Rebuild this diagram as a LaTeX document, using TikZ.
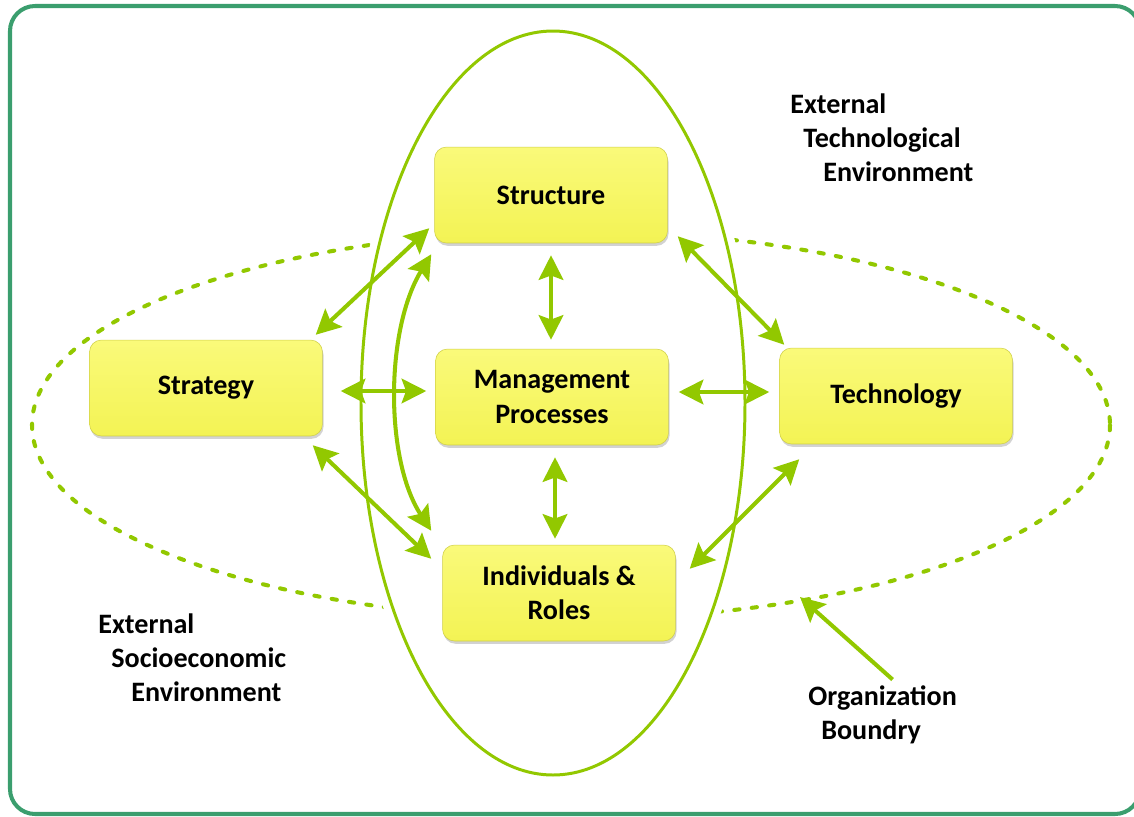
\documentclass[tikz,border=0pt]{standalone}
\usepackage{fontspec}
\setmainfont{Carlito}
\usetikzlibrary{arrows.meta,shadows}
\definecolor{leafgreen}{RGB}{146,200,0}
\definecolor{framegreen}{RGB}{59,158,110}
\definecolor{boxyellow}{RGB}{243,243,84}
\definecolor{boxlight}{RGB}{250,250,122}
\begin{document}
\begin{tikzpicture}[x=0.02cm, y=-0.02cm, >={Stealth[length=14pt,width=14pt,inset=2.5pt]},
    font=\fontsize{16}{19.4}\selectfont\bfseries,
    blockbox/.style={draw=boxyellow!85!black, line width=0.3pt,
        rounded corners=0.24cm, minimum width=4.66cm, minimum height=1.92cm,
        align=center, top color=boxlight, bottom color=boxyellow,
        drop shadow={shadow xshift=0.6pt, shadow yshift=-1.6pt, opacity=0.35}},
    link/.style={<->, leafgreen, line width=2.3pt},
    caption/.style={align=left, inner sep=0pt, anchor=west}]
    \useasboundingbox (0,0) rectangle (1134,816);
    \clip (0,0) rectangle (1134,816);

    % Outer frame
    \draw[framegreen, line width=2.3pt, rounded corners=0.5cm] (10,6) rectangle (1140,814);

    % Organization boundary (dashed) and the organization itself (solid)
    \draw[leafgreen, line width=2.3pt, dash pattern=on 3pt off 7pt, line cap=round]
        (571,425) ellipse [x radius=539, y radius=194];
    \draw[white, fill=white, line width=10pt] (553,403) ellipse [x radius=192, y radius=372];
    \draw[leafgreen, line width=1.7pt] (553,403) ellipse [x radius=192, y radius=372];

    % Boxes
    \node[blockbox] (struct) at (551,195) {Structure};
    \node[blockbox] (strat) at (206,388) {Strategy};
    \node[blockbox] (mgmt) at (552,397) {Management\\Processes};
    \node[blockbox] (tech) at (896,396) {Technology};
    \node[blockbox] (indiv) at (559,593) {Individuals \&\\Roles};

    % Links between boxes
    \draw[link] ([shift={(-7,-5)}]strat.north east) -- ([shift={(-5,-15)}]struct.south west);
    \draw[link] ([shift={(18,3)}]strat.east) -- ([shift={(-9,-6)}]mgmt.west);
    \draw[link] ([shift={(-10,9)}]strat.south east) -- ([shift={(-11,14)}]indiv.north west);
    \draw[link] ([shift={(0,12)}]struct.south) -- ([shift={(-1,-9)}]mgmt.north);
    \draw[link] ([shift={(3,12)}]mgmt.south) -- ([shift={(-4,-6)}]indiv.north);
    \draw[link] ([shift={(10,-5)}]mgmt.east) -- ([shift={(-10,-4)}]tech.west);
    \draw[link] ([shift={(10,-7)}]struct.south east) -- ([shift={(5,-3)}]tech.north west);
    \draw[link] ([shift={(20,15)}]tech.south west) -- ([shift={(14,24)}]indiv.north east);
    \draw[link] ([shift={(-3,11)}]struct.south west) .. controls (385,330) and (385,460)
        .. ([shift={(-11,-14)}]indiv.north west);

    % Labels
    \node[caption] (techenv) at (790,138) {External\\\hspace*{0.26cm}Technological\\\hspace*{0.66cm}Environment};
    \node[caption] (socioenv) at (98,658) {External\\\hspace*{0.26cm}Socioeconomic\\\hspace*{0.66cm}Environment};
    \node[caption] (orgbnd) at (808,715) {Organization\\\hspace*{0.26cm}Boundry};

    % Pointer to the boundary
    \coordinate (bnd) at (800,597);
    \draw[->, leafgreen, line width=2.3pt] ([shift={(10,-6)}]orgbnd.north) -- (bnd);
\end{tikzpicture}
\end{document}
